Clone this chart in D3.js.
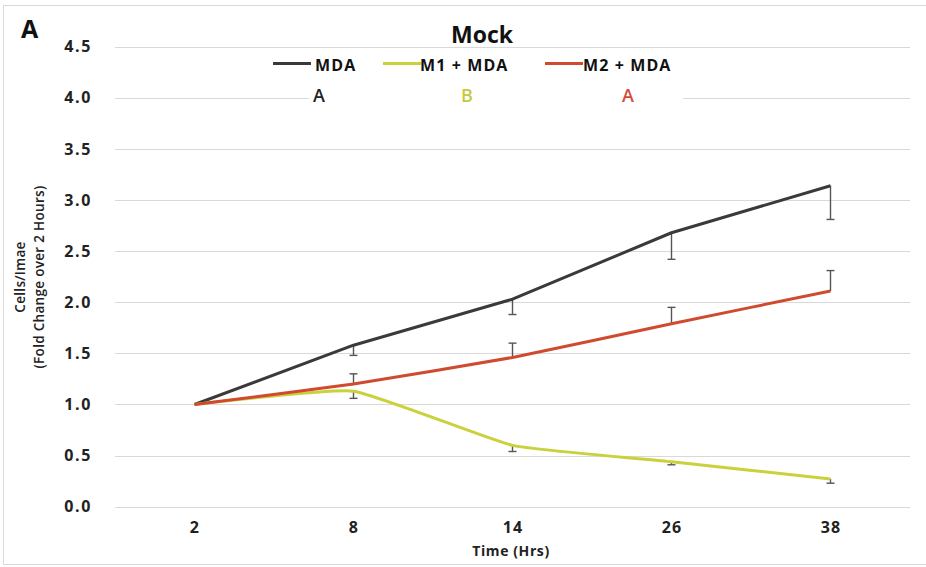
<!DOCTYPE html>
<html>
<head>
<meta charset="utf-8">
<script src="https://cdn.jsdelivr.net/npm/d3@7"></script>
<style>
  body { margin: 0; background: #fff; }
  svg { display: block; font-family: 'Open Sans', sans-serif; }
</style>
</head>
<body>
<svg width="926" height="567"></svg>
<script>
// Chart data
const hours = ['2', '8', '14', '26', '38'];
const yTicks = [0, 0.5, 1, 1.5, 2, 2.5, 3, 3.5, 4, 4.5];
const seriesNames = ['MDA', 'M1 + MDA', 'M2 + MDA'];
const groupLetters = ['A', 'B', 'A'];
const mda = [1.0, 1.58, 2.03, 2.68, 3.14];
const mdaErr = [0, 0.10, 0.15, 0.26, 0.33];
const m1 = [1.0, 1.13, 0.60, 0.44, 0.27];
const m1Err = [0, 0.07, 0.06, 0.03, 0.04];
const m2 = [1.0, 1.20, 1.46, 1.79, 2.11];
const m2Err = [0, 0.10, 0.14, 0.16, 0.20];

const colors = ['#3a3a3a', '#c9d13c', '#cf4a2e'];
const letterColors = ['#222', '#c3cb3c', '#d6493a'];

const svg = d3.select('svg');

// Frame around the chart area
svg.append('rect')
  .attr('x', 3.5)
  .attr('y', 5.5)
  .attr('width', 940)
  .attr('height', 559)
  .attr('fill', 'none')
  .attr('stroke', '#d9d9d9');

const xScale = d3.scalePoint()
  .domain(hours)
  .range([115, 910])
  .padding(0.5);

const yScale = d3.scaleLinear()
  .domain([0, 4.5])
  .range([506.7, 46.7]);

// Gridlines
svg.append('g')
  .selectAll('line')
  .data(yTicks)
  .enter()
  .append('line')
  .attr('x1', 115)
  .attr('x2', 910)
  .attr('y1', (d) => Math.round(yScale(d)) + 0.5)
  .attr('y2', (d) => Math.round(yScale(d)) + 0.5)
  .attr('stroke', '#d9d9d9')
  .attr('stroke-width', 1.2);

// Y axis labels
const yAxis = d3.axisLeft(yScale)
  .tickValues(yTicks)
  .tickFormat(d3.format('.1f'))
  .tickSize(0)
  .tickPadding(0);

svg.append('g')
  .attr('transform', 'translate(92, 0)')
  .call(yAxis)
  .call((g) => g.select('.domain').remove())
  .selectAll('text')
  .attr('font-family', 'Open Sans, sans-serif')
  .attr('font-size', 16)
  .attr('font-weight', 700)
  .attr('letter-spacing', 1.6)
  .attr('fill', '#222');

// X axis labels
const xAxis = d3.axisBottom(xScale).tickSize(0).tickPadding(0);

svg.append('g')
  .attr('transform', 'translate(0, 522)')
  .call(xAxis)
  .call((g) => g.select('.domain').remove())
  .selectAll('text')
  .attr('font-family', 'Open Sans, sans-serif')
  .attr('font-size', 16)
  .attr('font-weight', 700)
  .attr('letter-spacing', 1.2)
  .attr('fill', '#222');

// Axis titles
svg.append('text')
  .attr('x', 511)
  .attr('y', 556)
  .attr('text-anchor', 'middle')
  .attr('font-size', 14)
  .attr('font-weight', 700)
  .attr('letter-spacing', 0.6)
  .attr('fill', '#222')
  .text('Time (Hrs)');

const yTitle = svg.append('text')
  .attr('transform', 'translate(0, 277) rotate(-90)')
  .attr('text-anchor', 'middle')
  .attr('font-size', 13.5)
  .attr('font-weight', 600)
  .attr('letter-spacing', 0.3)
  .attr('fill', '#222');
yTitle.append('tspan').attr('x', 0).attr('y', 25).text('Cells/Imae');
yTitle.append('tspan').attr('x', 0).attr('y', 44).text('(Fold Change over 2 Hours)');

// Panel letter and title
svg.append('text')
  .attr('x', 21)
  .attr('y', 38)
  .attr('font-size', 25)
  .attr('font-weight', 700)
  .attr('fill', '#111')
  .text('A');

svg.append('text')
  .attr('x', 482)
  .attr('y', 43)
  .attr('text-anchor', 'middle')
  .attr('font-size', 23)
  .attr('font-weight', 700)
  .attr('fill', '#111')
  .text('Mock');

// Legend (white box hides part of the 4.0 gridline)
svg.append('rect')
  .attr('x', 309)
  .attr('y', 52)
  .attr('width', 374)
  .attr('height', 56)
  .attr('fill', '#fff');

const legendX = [273, 383, 545];
const legendTextX = [315, 420, 583];
const letterX = [319, 467, 628];

seriesNames.forEach((name, i) => {
  svg.append('line')
    .attr('x1', legendX[i])
    .attr('x2', legendX[i] + 38)
    .attr('y1', 63.5)
    .attr('y2', 63.5)
    .attr('stroke', colors[i])
    .attr('stroke-width', 3);
  svg.append('text')
    .attr('x', legendTextX[i])
    .attr('y', 70.5)
    .attr('font-size', 16)
    .attr('font-weight', 700)
    .attr('letter-spacing', 1.1)
    .attr('fill', '#111')
    .text(name);
  svg.append('text')
    .attr('x', letterX[i])
    .attr('y', 102)
    .attr('text-anchor', 'middle')
    .attr('font-size', 18)
    .attr('font-weight', 600)
    .attr('fill', letterColors[i])
    .text(groupLetters[i]);
});

// Series
const series = [
  { values: mda, err: mdaErr, dir: -1, curve: d3.curveLinear },
  { values: m1, err: m1Err, dir: -1, curve: d3.curveCardinal.tension(0.6) },
  { values: m2, err: m2Err, dir: 1, curve: d3.curveCardinal.tension(0.6) },
];

const line = (curve) => d3.line()
  .x((d, i) => xScale(hours[i]))
  .y((d) => yScale(d))
  .curve(curve);

series.forEach((s, k) => {
  const bars = svg.append('g');
  s.values.forEach((v, i) => {
    if (!s.err[i]) return;
    const x = xScale(hours[i]);
    const yEnd = yScale(v + s.dir * s.err[i]);
    bars.append('line')
      .attr('x1', x).attr('x2', x)
      .attr('y1', yScale(v)).attr('y2', yEnd)
      .attr('stroke', '#555')
      .attr('stroke-width', 1.4);
    bars.append('line')
      .attr('x1', x - 4).attr('x2', x + 4)
      .attr('y1', yEnd).attr('y2', yEnd)
      .attr('stroke', '#555')
      .attr('stroke-width', 1.4);
  });
  svg.append('path')
    .datum(s.values)
    .attr('d', line(s.curve))
    .attr('fill', 'none')
    .attr('stroke', colors[k])
    .attr('stroke-width', 3)
    .attr('stroke-linejoin', 'round');
});
</script>
</body>
</html>
